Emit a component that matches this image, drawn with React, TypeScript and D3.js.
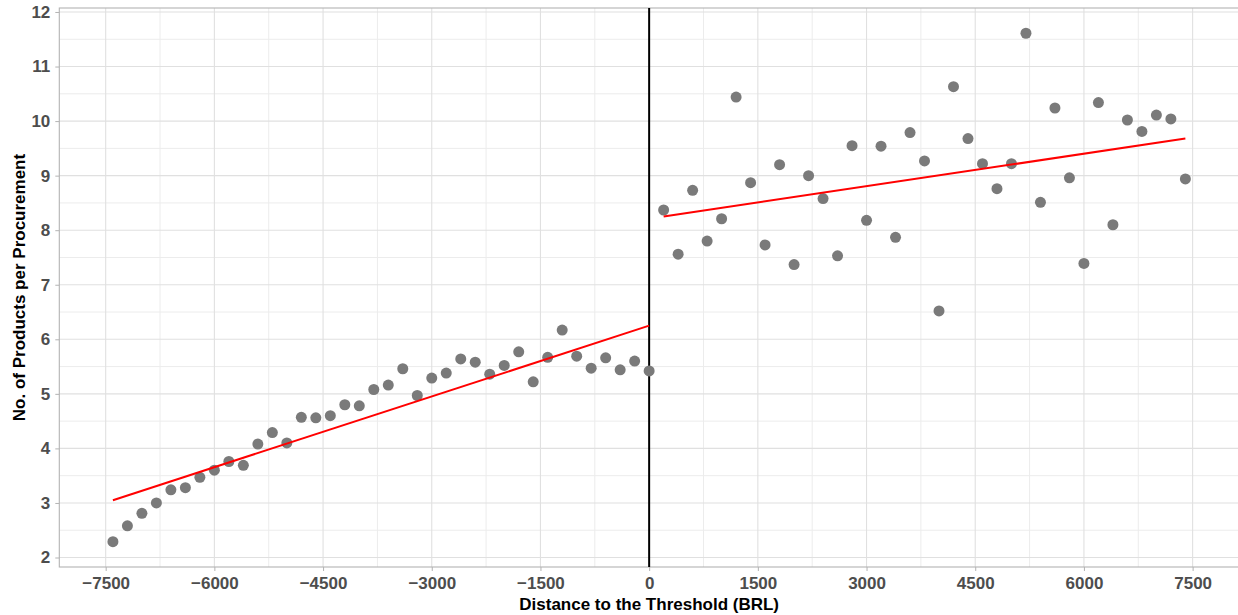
import React, { useEffect, useRef } from 'react';
import * as d3 from 'd3';

// distance to threshold (BRL), left of cutoff
const leftX = [-7400, -7200, -7000, -6800, -6600, -6400, -6200, -6000, -5800, -5600, -5400, -5200, -5000, -4800, -4600, -4400, -4200, -4000, -3800, -3600, -3400, -3200, -3000, -2800, -2600, -2400, -2200, -2000, -1800, -1600, -1400, -1200, -1000, -800, -600, -400, -200, 0];
const leftY = [2.29, 2.58, 2.81, 3.0, 3.24, 3.28, 3.47, 3.6, 3.76, 3.69, 4.08, 4.29, 4.1, 4.57, 4.56, 4.6, 4.8, 4.78, 5.08, 5.16, 5.46, 4.97, 5.29, 5.38, 5.64, 5.58, 5.36, 5.52, 5.77, 5.22, 5.67, 6.17, 5.69, 5.47, 5.66, 5.44, 5.6, 5.42];

// right of cutoff
const rightX = [200, 400, 600, 800, 1000, 1200, 1400, 1600, 1800, 2000, 2200, 2400, 2600, 2800, 3000, 3200, 3400, 3600, 3800, 4000, 4200, 4400, 4600, 4800, 5000, 5200, 5400, 5600, 5800, 6000, 6200, 6400, 6600, 6800, 7000, 7200, 7400];
const rightY = [8.37, 7.56, 8.73, 7.8, 8.21, 10.44, 8.87, 7.73, 9.2, 7.37, 9.0, 8.58, 7.53, 9.55, 8.18, 9.54, 7.87, 9.79, 9.27, 6.52, 10.63, 9.68, 9.22, 8.76, 9.22, 11.61, 8.51, 10.24, 8.96, 7.39, 10.34, 8.1, 10.02, 9.81, 10.11, 10.04, 8.94];

// linear fits (end points)
const fitLeft = [{ x: -7400, y: 3.05 }, { x: 0, y: 6.25 }];
const fitRight = [{ x: 200, y: 8.25 }, { x: 7400, y: 9.68 }];

const xTicks = [-7500, -6000, -4500, -3000, -1500, 0, 1500, 3000, 4500, 6000, 7500];
const xMinor = [-6750, -5250, -3750, -2250, -750, 750, 2250, 3750, 5250, 6750];
const yTicks = [2, 3, 4, 5, 6, 7, 8, 9, 10, 11, 12];
const yMinor = [2.5, 3.5, 4.5, 5.5, 6.5, 7.5, 8.5, 9.5, 10.5, 11.5];

const FONT = '"Liberation Sans", Arial, Helvetica, sans-serif';

const App: React.FC = () => {
  const svgRef = useRef<SVGSVGElement>(null);

  useEffect(() => {
    if (!svgRef.current) return;
    const root = d3.select(svgRef.current);
    root.selectAll('*').remove();

    const W = 1238;
    const H = 615;
    const panel = { left: 59.3, right: 1239, top: 8, bottom: 567 };

    root.attr('width', W).attr('height', H);

    const x = d3.scaleLinear().domain([-8140, 8140]).range([panel.left, panel.right]);
    const y = d3.scaleLinear().domain([1.826, 12.073]).range([panel.bottom, panel.top]);

    const g = root.append('g');

    // minor grid
    g.selectAll('.vminor').data(xMinor).enter().append('line')
      .attr('x1', d => x(d)).attr('x2', d => x(d))
      .attr('y1', panel.top).attr('y2', panel.bottom)
      .attr('stroke', '#ececec').attr('stroke-width', 1);
    g.selectAll('.hminor').data(yMinor).enter().append('line')
      .attr('y1', d => y(d)).attr('y2', d => y(d))
      .attr('x1', panel.left).attr('x2', panel.right)
      .attr('stroke', '#ececec').attr('stroke-width', 1);

    // major grid
    g.selectAll('.vmajor').data(xTicks).enter().append('line')
      .attr('x1', d => x(d)).attr('x2', d => x(d))
      .attr('y1', panel.top).attr('y2', panel.bottom)
      .attr('stroke', '#e0e0e0').attr('stroke-width', 1.1);
    g.selectAll('.hmajor').data(yTicks).enter().append('line')
      .attr('y1', d => y(d)).attr('y2', d => y(d))
      .attr('x1', panel.left).attr('x2', panel.right)
      .attr('stroke', '#e0e0e0').attr('stroke-width', 1.1);

    // panel border
    g.append('rect')
      .attr('x', panel.left).attr('y', panel.top)
      .attr('width', panel.right - panel.left).attr('height', panel.bottom - panel.top)
      .attr('fill', 'none').attr('stroke', '#b3b3b3').attr('stroke-width', 1.1);

    // cutoff
    g.append('line')
      .attr('x1', x(0)).attr('x2', x(0))
      .attr('y1', panel.top).attr('y2', panel.bottom)
      .attr('stroke', '#000').attr('stroke-width', 2);

    // points
    const pts = [
      ...leftX.map((v, i) => ({ x: v, y: leftY[i] })),
      ...rightX.map((v, i) => ({ x: v, y: rightY[i] })),
    ];
    g.selectAll('.pt').data(pts).enter().append('circle')
      .attr('cx', d => x(d.x)).attr('cy', d => y(d.y))
      .attr('r', 5.5).attr('fill', '#7a7a7a');

    // fitted lines
    const line = d3.line<{ x: number; y: number }>().x(d => x(d.x)).y(d => y(d.y));
    [fitLeft, fitRight].forEach(seg => {
      g.append('path').datum(seg)
        .attr('fill', 'none').attr('stroke', '#ff0000').attr('stroke-width', 2)
        .attr('d', line);
    });

    // axes
    const xAxis = g.append('g')
      .attr('transform', `translate(0,${panel.bottom})`)
      .call(d3.axisBottom(x).tickValues(xTicks).tickSize(4).tickPadding(6).tickFormat(d3.format('')));
    xAxis.select('.domain').remove();
    xAxis.selectAll('line').attr('stroke', '#b3b3b3');
    xAxis.selectAll('text')
      .attr('fill', '#4d4d4d').style('font-family', FONT).style('font-size', '17px').style('font-weight', 'bold');

    const yAxis = g.append('g')
      .attr('transform', `translate(${panel.left},0)`)
      .call(d3.axisLeft(y).tickValues(yTicks).tickSize(4).tickPadding(5).tickFormat(d3.format('')));
    yAxis.select('.domain').remove();
    yAxis.selectAll('line').attr('stroke', '#b3b3b3');
    yAxis.selectAll('text')
      .attr('fill', '#4d4d4d').style('font-family', FONT).style('font-size', '17px').style('font-weight', 'bold');

    // axis titles
    g.append('text')
      .attr('x', x(0)).attr('y', 610)
      .attr('text-anchor', 'middle')
      .style('font-family', FONT).style('font-size', '17px').style('font-weight', 'bold')
      .attr('fill', '#000')
      .text('Distance to the Threshold (BRL)');

    g.append('text')
      .attr('transform', `translate(25,${(panel.top + panel.bottom) / 2}) rotate(-90)`)
      .attr('text-anchor', 'middle')
      .style('font-family', FONT).style('font-size', '17px').style('font-weight', 'bold')
      .attr('fill', '#000')
      .text('No. of Products per Procurement');
  }, []);

  return <svg ref={svgRef} style={{ position: 'absolute', left: 0, top: 0 }} />;
};

export default App;
